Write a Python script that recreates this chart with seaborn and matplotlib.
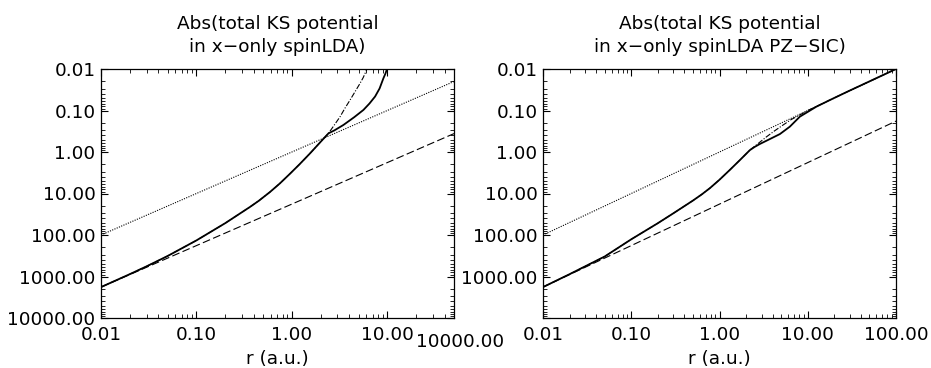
import numpy as np
import pandas as pd
import matplotlib
matplotlib.use("Agg")
import matplotlib.pyplot as plt
import matplotlib.ticker as mticker
import seaborn as sns

# ---------------- data ----------------
titles = ["Abs(total KS potential\nin x\u2212only spinLDA)",
          "Abs(total KS potential\nin x\u2212only spinLDA PZ\u2212SIC)"]
xlabel = "r (a.u.)"

# left panel
left_solid_r = [0.01, 0.02, 0.03, 0.05, 0.1, 0.2, 0.365, 0.45, 0.59, 0.75, 0.957, 1.2, 1.55, 2.0,
                2.42, 2.8, 3.47, 4.5, 5.62, 6.5, 7.45, 8.3, 9.1, 9.6, 10.0]
left_solid_v = [1800, 880, 570, 320, 135, 52, 21, 15, 9.2, 5.7, 3.33, 1.99, 1.08, 0.57,
                0.355, 0.30, 0.223, 0.145, 0.097, 0.068, 0.046, 0.0295, 0.0168, 0.0126, 0.0095]
left_dashdot_r = [0.01, 0.02, 0.03, 0.05, 0.1, 0.2, 0.365, 0.45, 0.59, 0.75, 0.957, 1.2, 1.55, 2.0,
                  2.42, 2.8, 3.2, 3.6, 4.07, 4.6, 5.19, 5.6, 6.1, 6.3]
left_dashdot_v = [1800, 880, 570, 320, 135, 52, 21, 15, 9.2, 5.7, 3.33, 1.99, 1.08, 0.57,
                  0.355, 0.22, 0.141, 0.088, 0.056, 0.035, 0.022, 0.016, 0.0102, 0.009]
left_dotted_r = [0.01, 50]
left_dotted_v = [100, 0.02]
left_dashed_r = [0.01, 50]
left_dashed_v = [1800, 0.36]

# right panel
right_solid_r = [0.01, 0.02, 0.05, 0.1, 0.2, 0.3, 0.5, 0.63, 0.78, 1.0, 1.31, 1.7, 2.21, 2.5,
                 2.87, 3.5, 4.83, 6.27, 8.13, 10.0, 12.5, 17.8, 30, 100]
right_solid_v = [1800, 880, 330, 127, 52, 30, 14.8, 10.5, 7.4, 4.66, 2.7, 1.57, 0.9, 0.755,
                 0.64, 0.52, 0.37, 0.245, 0.141, 0.108, 0.081, 0.056, 0.033, 0.01]
right_dashdot_r = [0.01, 0.02, 0.05, 0.1, 0.2, 0.3, 0.5, 0.63, 0.78, 1.0, 1.31, 1.7, 2.21, 2.7,
                   3.41, 4.2, 5.26, 6.5, 8.13, 10.0, 12.5, 17.8, 30, 100]
right_dashdot_v = [1800, 880, 330, 127, 52, 30, 14.8, 10.5, 7.4, 4.66, 2.7, 1.57, 0.9, 0.64,
                   0.43, 0.31, 0.223, 0.165, 0.128, 0.1, 0.08, 0.056, 0.033, 0.01]
right_dotted_r = [0.01, 100]
right_dotted_v = [100, 0.01]
right_dashed_r = [0.01, 100]
right_dashed_v = [1800, 0.18]

y_ticks = [0.01, 0.1, 1, 10, 100, 1000, 10000]
left_x_ticks = [0.01, 0.1, 1, 10]
right_x_ticks = [0.01, 0.1, 1, 10, 100]
left_xlim = (0.01, 50)
right_xlim = (0.01, 100)
stray_label = "10000.00"

# ---------------- style ----------------
sns.set_theme(style="ticks")
plt.rcParams["font.family"] = ["DejaVu Sans"]
plt.rcParams["axes.edgecolor"] = "black"
plt.rcParams["axes.linewidth"] = 0.9
plt.rcParams["text.color"] = "black"
plt.rcParams["axes.labelcolor"] = "black"

FS = 13.3

fig = plt.figure(figsize=(9.31, 3.68), dpi=100)
axL = fig.add_axes([101 / 931, 1 - 318 / 368, 353 / 931, 249 / 368])
axR = fig.add_axes([543 / 931, 1 - 318 / 368, 353 / 931, 249 / 368])

fmt = mticker.FuncFormatter(lambda v, p: "%.2f" % v)


def draw(ax, solid, dashdot, dotted, dashed, xlim, xticks, title, ylabels_all):
    sns.lineplot(x=dotted[0], y=dotted[1], ax=ax, color="black", lw=0.8,
                 linestyle=(0, (1, 1.2)), sort=False, estimator=None)
    sns.lineplot(x=dashed[0], y=dashed[1], ax=ax, color="black", lw=0.8,
                 linestyle=(0, (7, 3)), sort=False, estimator=None)
    sns.lineplot(x=dashdot[0], y=dashdot[1], ax=ax, color="black", lw=0.8,
                 linestyle=(0, (5, 1.5, 1, 1.5)), sort=False, estimator=None)
    sns.lineplot(x=solid[0], y=solid[1], ax=ax, color="black", lw=1.3,
                 sort=False, estimator=None)
    ax.set_xscale("log")
    ax.set_yscale("log")
    ax.set_xlim(*xlim)
    ax.set_ylim(10000, 0.01)
    ax.xaxis.set_major_locator(mticker.FixedLocator(xticks))
    ax.xaxis.set_major_formatter(fmt)
    ax.yaxis.set_major_locator(mticker.FixedLocator(y_ticks))
    if ylabels_all:
        ax.yaxis.set_major_formatter(fmt)
    else:
        ax.yaxis.set_major_formatter(mticker.FuncFormatter(
            lambda v, p: "" if v >= 9999 else "%.2f" % v))
    ax.xaxis.set_minor_locator(mticker.LogLocator(base=10, subs=np.arange(2, 10)))
    ax.yaxis.set_minor_locator(mticker.LogLocator(base=10, subs=np.arange(2, 10)))
    ax.xaxis.set_minor_formatter(mticker.NullFormatter())
    ax.yaxis.set_minor_formatter(mticker.NullFormatter())
    ax.tick_params(which="both", direction="in", top=True, right=True,
                   colors="black", labelsize=FS)
    ax.tick_params(which="major", length=5, width=0.8, pad=4)
    ax.tick_params(axis="x", which="major", pad=6)
    ax.tick_params(which="minor", length=3, width=0.6)
    ax.set_xlabel(xlabel, fontsize=FS, labelpad=4, color="black")
    ax.set_ylabel("")
    ax.set_title(title, fontsize=FS, pad=12, linespacing=1.4, color="black")
    for s in ax.spines.values():
        s.set_visible(True)
        s.set_color("black")


draw(axL, (left_solid_r, left_solid_v), (left_dashdot_r, left_dashdot_v),
     (left_dotted_r, left_dotted_v), (left_dashed_r, left_dashed_v),
     left_xlim, left_x_ticks, titles[0], True)
draw(axR, (right_solid_r, right_solid_v), (right_dashdot_r, right_dashdot_v),
     (right_dotted_r, right_dotted_v), (right_dashed_r, right_dashed_v),
     right_xlim, right_x_ticks, titles[1], False)

axL.text(1.016, -0.097, stray_label, transform=axL.transAxes, ha="center",
         va="center", fontsize=FS, color="black", clip_on=False)

fig.savefig("out.png", dpi=100)
